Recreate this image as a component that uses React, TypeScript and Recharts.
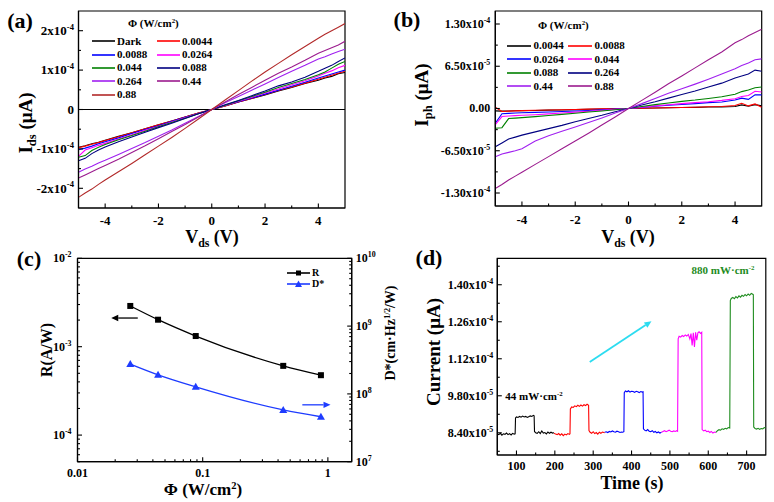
import React from 'react';
import { LineChart, Line, XAxis, YAxis, ReferenceLine, ReferenceArea, Legend } from 'recharts';

const FONT = "'Liberation Serif', 'Times New Roman', Times, serif";
const AXIS = { stroke: '#000', strokeWidth: 1.2 };
const BLUE = '#1E3CFF';
const CYAN = '#2CDCF0';

// ---- (a) I-V curves, current in units of 1e-4 µA ----
const VDS = [-5, -4.75, -4.5, -4.25, -4, -3.5, -3, -2.5, -2, -1.5, -1, -0.5, 0, 0.5, 1, 1.5, 2, 2.5, 3, 3.5, 4, 4.25, 4.5, 4.75, 5];
const IDS_DARK = [-0.96, -0.92, -0.87, -0.83, -0.78, -0.68, -0.59, -0.49, -0.39, -0.29, -0.19, -0.09, 0, 0.09, 0.19, 0.28, 0.37, 0.47, 0.56, 0.66, 0.74, 0.8, 0.84, 0.91, 0.94];
const IDS_0044 = [-0.97, -0.93, -0.88, -0.84, -0.79, -0.69, -0.59, -0.49, -0.39, -0.29, -0.19, -0.09, 0, 0.09, 0.19, 0.28, 0.38, 0.48, 0.57, 0.67, 0.77, 0.82, 0.87, 0.92, 0.97];
const IDS_0088 = [-1.02, -0.98, -0.93, -0.87, -0.82, -0.72, -0.61, -0.51, -0.41, -0.3, -0.2, -0.1, 0, 0.1, 0.2, 0.29, 0.39, 0.49, 0.59, 0.69, 0.8, 0.85, 0.9, 0.95, 1.0];
const IDS_0264 = [-1.19, -1.03, -0.97, -0.91, -0.86, -0.75, -0.64, -0.53, -0.43, -0.32, -0.21, -0.1, 0, 0.1, 0.21, 0.31, 0.42, 0.52, 0.63, 0.73, 0.85, 0.92, 0.98, 1.06, 1.12];
const IDS_044 = [-1.21, -1.17, -1.04, -0.96, -0.89, -0.77, -0.66, -0.55, -0.44, -0.33, -0.22, -0.11, 0, 0.11, 0.22, 0.33, 0.44, 0.56, 0.66, 0.76, 0.88, 0.95, 1.05, 1.15, 1.22];
const IDS_088 = [-1.3, -1.24, -1.12, -1.03, -0.95, -0.82, -0.7, -0.58, -0.46, -0.35, -0.23, -0.11, 0, 0.12, 0.23, 0.35, 0.47, 0.6, 0.7, 0.82, 0.97, 1.05, 1.12, 1.22, 1.31];
const IDS_264 = [-1.59, -1.51, -1.44, -1.36, -1.29, -1.14, -0.99, -0.84, -0.68, -0.52, -0.35, -0.18, 0, 0.17, 0.33, 0.49, 0.65, 0.81, 0.97, 1.12, 1.28, 1.34, 1.41, 1.47, 1.53];
const IDS_44 = [-1.74, -1.66, -1.58, -1.5, -1.42, -1.26, -1.09, -0.92, -0.74, -0.56, -0.38, -0.19, 0, 0.19, 0.38, 0.56, 0.74, 0.92, 1.08, 1.25, 1.43, 1.5, 1.57, 1.64, 1.73];
const IDS_88 = [-2.23, -2.12, -2.02, -1.9, -1.79, -1.58, -1.37, -1.15, -0.93, -0.71, -0.48, -0.24, 0, 0.24, 0.48, 0.72, 0.95, 1.17, 1.39, 1.6, 1.81, 1.91, 2.0, 2.09, 2.18];

const A_NAMES = ['Dark', '0.0044', '0.0088', '0.0264', '0.044', '0.088', '0.264', '0.44', '0.88'];
const A_COLORS = ['#000000', '#FF0000', '#0000FF', '#FF00FF', '#008000', '#000080', '#A020F0', '#9B1B8E', '#B22A2A'];
const A_VALUES = [IDS_DARK, IDS_0044, IDS_0088, IDS_0264, IDS_044, IDS_088, IDS_264, IDS_44, IDS_88];

// ---- (b) photocurrent, units of 1e-5 µA ----
const IPH_0044 = [-0.36, -0.4, -0.38, -0.35, -0.33, -0.3, -0.25, -0.22, -0.18, -0.12, -0.08, -0.04, 0, 0.05, 0.08, 0.12, 0.15, 0.18, 0.22, 0.25, 0.3, 0.55, 0.35, 0.6, 0.4];
const IPH_0088 = [0.2, -0.45, -0.4, -0.36, -0.32, -0.28, -0.24, -0.2, -0.15, -0.1, -0.06, -0.03, 0, 0.04, 0.08, 0.12, 0.16, 0.2, 0.26, 0.3, 0.45, 0.8, 0.4, 0.7, 0.2];
const IPH_0264 = [-2.27, -0.8, -0.75, -0.7, -0.66, -0.6, -0.53, -0.45, -0.38, -0.3, -0.2, -0.1, 0, 0.18, 0.35, 0.5, 0.62, 0.75, 0.9, 1.0, 1.3, 1.6, 1.4, 2.1, 2.1];
const IPH_044 = [-2.5, -1.24, -1.15, -1.1, -1.05, -0.95, -0.82, -0.7, -0.56, -0.42, -0.28, -0.14, 0, 0.2, 0.4, 0.58, 0.75, 0.9, 1.05, 1.25, 1.5, 1.85, 2.0, 2.65, 2.55];
const IPH_088 = [-3.04, -2.95, -1.55, -1.48, -1.4, -1.25, -1.08, -0.9, -0.72, -0.55, -0.38, -0.19, 0, 0.3, 0.6, 0.85, 1.1, 1.3, 1.55, 1.8, 2.2, 2.6, 2.85, 3.2, 3.3];
const IPH_264 = [-5.88, -5.3, -4.7, -4.4, -4.1, -3.6, -3.1, -2.6, -2.05, -1.55, -1.05, -0.5, 0, 0.55, 1.05, 1.6, 2.15, 2.7, 3.3, 3.9, 4.7, 5.0, 5.3, 5.9, 5.73];
const IPH_44 = [-7.43, -7.0, -6.75, -6.5, -6.2, -5.0, -4.2, -3.5, -2.85, -2.15, -1.45, -0.7, 0, 0.75, 1.55, 2.35, 3.05, 3.75, 4.5, 5.3, 6.1, 6.6, 7.0, 7.5, 7.63];
const IPH_88 = [-12.3, -11.7, -11.0, -10.4, -9.8, -8.6, -7.4, -6.2, -5.0, -3.8, -2.55, -1.3, 0, 1.25, 2.5, 3.8, 5.0, 6.25, 7.5, 8.7, 10.1, 10.6, 11.2, 11.7, 12.2];

const B_NAMES = ['0.0044', '0.0088', '0.0264', '0.044', '0.088', '0.264', '0.44', '0.88'];
const B_COLORS = ['#000000', '#FF0000', '#0000FF', '#FF00FF', '#008000', '#000080', '#A020F0', '#9B1B8E'];
const B_VALUES = [IPH_0044, IPH_0088, IPH_0264, IPH_044, IPH_088, IPH_264, IPH_44, IPH_88];

// ---- (c) responsivity and detectivity ----
const PHI = [0.0264, 0.044, 0.088, 0.44, 0.88];
const RESP = [2.89e-3, 2.02e-3, 1.32e-3, 6.07e-4, 4.76e-4];
const DSTAR = [2.75e8, 1.91e8, 1.27e8, 5.8e7, 4.6e7];

// ---- (d) on/off switching, current in units of 1e-5 µA ----
const RUN_BLACK: [number, number][] = [[50, 8.36], [54, 8.33], [58, 8.38], [62, 8.31], [66, 8.36], [70, 8.34], [74, 8.39], [78, 8.33], [82, 8.37], [86, 8.32], [90, 8.38], [94, 8.35], [96.5, 8.36], [97.5, 8.96], [100, 9.0], [104, 8.98], [108, 9.02], [112, 8.99], [116, 9.03], [120, 9.0], [124, 9.02], [128, 8.98], [132, 9.01], [136, 9.04], [140, 9.02], [144, 9.06], [146, 9.04], [147, 8.45], [150, 8.4], [154, 8.38], [158, 8.44], [162, 8.37], [166, 8.47], [170, 8.39], [174, 8.41], [178, 8.36], [182, 8.43], [186, 8.38], [190, 8.42], [194, 8.39], [198, 8.4]];
const RUN_RED: [number, number][] = [[198, 8.38], [202, 8.35], [206, 8.33], [210, 8.37], [214, 8.31], [218, 8.36], [222, 8.29], [226, 8.35], [230, 8.32], [234, 8.37], [238, 8.34], [239.5, 8.36], [240.5, 9.3], [244, 9.38], [248, 9.36], [252, 9.42], [256, 9.39], [260, 9.44], [264, 9.4], [268, 9.45], [272, 9.41], [276, 9.46], [280, 9.43], [284, 9.48], [288, 9.44], [289, 8.48], [292, 8.42], [296, 8.38], [300, 8.44], [304, 8.37], [308, 8.41], [312, 8.35], [316, 8.42], [320, 8.38], [324, 8.43], [330, 8.4]];
const RUN_BLUE: [number, number][] = [[330, 8.42], [334, 8.44], [338, 8.41], [342, 8.45], [346, 8.43], [350, 8.47], [354, 8.44], [358, 8.42], [362, 8.46], [366, 8.44], [370, 8.41], [374, 8.43], [377, 8.42], [380, 8.44], [381, 9.92], [384, 9.98], [388, 9.95], [392, 9.99], [396, 9.94], [400, 9.97], [404, 9.96], [408, 9.93], [412, 9.97], [416, 9.95], [420, 9.92], [424, 9.96], [428, 9.94], [430, 9.95], [431, 8.55], [434, 8.5], [438, 8.47], [442, 8.52], [446, 8.46], [450, 8.44], [454, 8.48], [458, 8.42], [462, 8.45], [466, 8.4], [470, 8.43], [474, 8.39], [478, 8.42]];
const RUN_MAGENTA: [number, number][] = [[478, 8.42], [482, 8.45], [486, 8.48], [490, 8.44], [494, 8.47], [498, 8.5], [502, 8.46], [506, 8.44], [510, 8.47], [514, 8.45], [518, 8.48], [520, 8.46], [521.5, 11.95], [524, 12.05], [528, 12.02], [532, 12.08], [536, 12.04], [540, 12.1], [544, 12.06], [548, 12.12], [552, 11.95], [555, 12.15], [558, 11.7], [561, 12.18], [564, 11.65], [567, 12.2], [570, 11.9], [573, 12.18], [576, 12.22], [580, 12.16], [583, 12.2], [584, 8.52], [588, 8.47], [592, 8.5], [596, 8.44], [600, 8.46], [604, 8.41], [608, 8.45], [612, 8.39], [616, 8.43], [620, 8.41]];
const RUN_GREEN: [number, number][] = [[620, 8.42], [624, 8.48], [628, 8.52], [632, 8.5], [636, 8.55], [640, 8.53], [644, 8.57], [648, 8.55], [652, 8.6], [656, 8.58], [657.5, 13.4], [660, 13.48], [664, 13.52], [668, 13.47], [672, 13.55], [676, 13.5], [680, 13.58], [684, 13.53], [688, 13.6], [692, 13.56], [696, 13.63], [700, 13.58], [704, 13.65], [708, 13.6], [712, 13.67], [716, 13.64], [717.5, 13.62], [718.5, 8.62], [722, 8.56], [726, 8.54], [730, 8.57], [734, 8.53], [738, 8.56], [742, 8.55], [746, 8.6], [750, 8.58]];
const D_RUNS = [RUN_BLACK, RUN_RED, RUN_BLUE, RUN_MAGENTA, RUN_GREEN];
const D_COLORS = ['#000000', '#FF0000', '#0000FF', '#FF00FF', '#1E8C1E'];

// ---- ticks ----
const IV_X_TICKS = [-4, -3, -2, -1, 0, 1, 2, 3, 4];
const IV_X_MAJOR = [-4, -2, 0, 2, 4];
const A_Y_TICKS = [-2, -1.5, -1, -0.5, 0, 0.5, 1, 1.5, 2];
const A_Y_MAJOR = [-2, -1, 0, 1, 2];
const B_Y_TICKS = [-13, -9.75, -6.5, -3.25, 0, 3.25, 6.5, 9.75, 13];
const B_Y_MAJOR = [-13, -6.5, 0, 6.5, 13];
const C_X_TICKS = [0.01, 0.02, 0.03, 0.04, 0.05, 0.06, 0.07, 0.08, 0.09, 0.1, 0.2, 0.3, 0.4, 0.5, 0.6, 0.7, 0.8, 0.9, 1];
const C_R_TICKS = [5e-5, 6e-5, 7e-5, 8e-5, 9e-5, 1e-4, 2e-4, 3e-4, 4e-4, 5e-4, 6e-4, 7e-4, 8e-4, 9e-4, 1e-3, 2e-3, 3e-3, 4e-3, 5e-3, 6e-3, 7e-3, 8e-3, 9e-3, 1e-2];
const C_D_TICKS = [1e7, 2e7, 3e7, 4e7, 5e7, 6e7, 7e7, 8e7, 9e7, 1e8, 2e8, 3e8, 4e8, 5e8, 6e8, 7e8, 8e8, 9e8, 1e9, 2e9, 3e9, 4e9, 5e9, 6e9, 7e9, 8e9, 9e9, 1e10];
const D_X_TICKS = [100, 150, 200, 250, 300, 350, 400, 450, 500, 550, 600, 650, 700];
const D_X_MAJOR = [100, 200, 300, 400, 500, 600, 700];
const D_Y_TICKS = [7.7, 8.4, 9.1, 9.8, 10.5, 11.2, 11.9, 12.6, 13.3, 14, 14.7];
const D_Y_MAJOR = [8.4, 9.8, 11.2, 12.6, 14];

const near = (a: number, b: number) => Math.abs(a - b) < 1e-6 * Math.max(1, Math.abs(b));
const inList = (v: number, list: number[]) => list.some((m) => near(v, m));
const isDecade = (v: number) => {
  const l = Math.log10(v);
  return Math.abs(l - Math.round(l)) < 1e-6;
};

type Lab = [string, string] | null;
// label in units of 1e-5 -> "8.40x10^-5" / "1.26x10^-4"
const sciE5 = (v: number): [string, string] => {
  if (v === 0) return ['0.00', ''];
  if (Math.abs(v) >= 10) return [`${(v / 10).toFixed(2)}x10`, '-4'];
  return [`${v.toFixed(2)}x10`, '-5'];
};

const makeTick = (side: 'left' | 'right' | 'bottom', gap: number, size: number, label: (v: number) => Lab) =>
  (p: any) => {
    const v = p.payload.value;
    const lab = label(v);
    const len = lab ? 4.5 : 2.5;
    const { x, y } = p;
    let ln;
    if (side === 'left') ln = <line x1={x + gap} x2={x + gap + len} y1={y} y2={y} stroke="#000" strokeWidth={1.1} />;
    else if (side === 'right') ln = <line x1={x - gap} x2={x - gap - len} y1={y} y2={y} stroke="#000" strokeWidth={1.1} />;
    else ln = <line x1={x} x2={x} y1={y - gap} y2={y - gap - len} stroke="#000" strokeWidth={1.1} />;
    if (!lab) return <g>{ln}</g>;
    const anchor = side === 'left' ? 'end' : side === 'right' ? 'start' : 'middle';
    const ty = side === 'bottom' ? y + size * 0.72 : y + size * 0.33;
    return (
      <g>
        {ln}
        <text x={x} y={ty} textAnchor={anchor} fontFamily={FONT} fontWeight={700} fontSize={size} fill="#000">
          {lab[0]}
          {lab[1] && <tspan dy={-size * 0.42} fontSize={size * 0.66}>{lab[1]}</tspan>}
        </text>
      </g>
    );
  };

const ivXLabel = (v: number): Lab => (inList(v, IV_X_MAJOR) ? [String(v), ''] : null);
const tickAX = makeTick('bottom', 7.5, 13, ivXLabel);
const tickAY = makeTick('left', 4.5, 13, (v) => (inList(v, A_Y_MAJOR) ? (v === 0 ? ['0', ''] : [`${v}x10`, '-4']) : null));
const tickBX = makeTick('bottom', 9, 13, ivXLabel);
const tickBY = makeTick('left', 5, 12, (v) => (inList(v, B_Y_MAJOR) ? sciE5(v) : null));
const tickCX = makeTick('bottom', 6.5, 12, (v) => (isDecade(v) ? [String(v), ''] : null));
const tickCL = makeTick('left', 6, 12, (v) => (isDecade(v) ? ['10', String(Math.round(Math.log10(v)))] : null));
const tickCR = makeTick('right', 4, 12, (v) => (isDecade(v) ? ['10', String(Math.round(Math.log10(v)))] : null));
const tickDX = makeTick('bottom', 6.5, 12, (v) => (inList(v, D_X_MAJOR) ? [String(v), ''] : null));
const tickDY = makeTick('left', 4, 12, (v) => (inList(v, D_Y_MAJOR) ? sciE5(v) : null));

const ivPoints = (ys: number[]) => VDS.map((v, i) => ({ v, y: ys[i] }));
const runPoints = (run: [number, number][]) => run.map(([t, y]) => ({ t, y }));
const C_ROWS = PHI.map((phi, i) => ({ phi, r: RESP[i], d: DSTAR[i] }));

const Arrow = (p: any) => {
  const { x1, y1, x2, y2, stroke } = p;
  const a = Math.atan2(y2 - y1, x2 - x1);
  const L = 7;
  const W = 3.2;
  const bx = x2 - L * Math.cos(a);
  const by = y2 - L * Math.sin(a);
  const pts = `${x2},${y2} ${bx - W * Math.sin(a)},${by + W * Math.cos(a)} ${bx + W * Math.sin(a)},${by - W * Math.cos(a)}`;
  return (
    <g>
      <line x1={x1} y1={y1} x2={bx} y2={by} stroke={stroke} strokeWidth={p.strokeWidth || 1.3} />
      <polygon points={pts} fill={stroke} />
    </g>
  );
};

const SquareDot = (p: any) => <rect key={`s${p.index}`} x={p.cx - 3} y={p.cy - 3} width={6} height={6} fill="#000" />;
const TriDot = (p: any) => (
  <polygon key={`t${p.index}`} points={`${p.cx},${p.cy - 4} ${p.cx - 4},${p.cy + 3} ${p.cx + 4},${p.cy + 3}`} fill={BLUE} />
);

const Sup = ({ children }: { children: React.ReactNode }) => (
  <span style={{ fontSize: '0.62em', position: 'relative', top: '-0.55em' }}>{children}</span>
);
const Sub = ({ children }: { children: React.ReactNode }) => (
  <span style={{ fontSize: '0.66em', position: 'relative', top: '0.3em' }}>{children}</span>
);

const GridLegend = (props: any) => {
  const { payload = [], order, cols, colW, rowH, lineW, fontSize, title, titleH, titlePad, titleGap } = props;
  const items = [...payload].sort((a: any, b: any) => order.indexOf(a.value) - order.indexOf(b.value));
  return (
    <div style={{ fontFamily: FONT, fontWeight: 700, fontSize, color: '#000', lineHeight: 1 }}>
      {title && (
        <div style={{ height: titleH, lineHeight: `${titleH}px`, paddingLeft: titlePad, marginBottom: titleGap }}>
          Φ (W/cm<Sup>2</Sup>)
        </div>
      )}
      <div style={{ display: 'grid', gridTemplateColumns: `repeat(${cols}, ${colW}px)` }}>
        {items.map((e: any) => (
          <div key={e.value} style={{ display: 'flex', alignItems: 'center', height: rowH }}>
            <svg width={lineW} height={8} style={{ flex: 'none' }}>
              <line x1={0} x2={lineW} y1={4} y2={4} stroke={e.color} strokeWidth={1.6} />
              {e.type === 'square' && <rect x={lineW / 2 - 2.5} y={1.5} width={5} height={5} fill={e.color} />}
              {e.type === 'triangle' && (
                <polygon points={`${lineW / 2},0.5 ${lineW / 2 - 3.5},7 ${lineW / 2 + 3.5},7`} fill={e.color} />
              )}
            </svg>
            <span style={{ marginLeft: 2 }}>{e.value}</span>
          </div>
        ))}
      </div>
    </div>
  );
};

const Txt = ({ x, y, size, rot, color, children }: any) => (
  <div
    style={{
      position: 'absolute',
      left: x,
      top: y,
      transform: `translate(-50%, -50%)${rot ? ' rotate(-90deg)' : ''}`,
      fontFamily: FONT,
      fontWeight: 700,
      fontSize: size,
      lineHeight: 1,
      whiteSpace: 'nowrap',
      color: color || '#000',
    }}
  >
    {children}
  </div>
);

const PanelA = () => (
  <LineChart width={390} height={250} margin={{ top: 11, right: 45, bottom: 12, left: 0 }}>
    <XAxis type="number" dataKey="v" domain={[-5, 5]} ticks={IV_X_TICKS} interval={0} tickSize={0} tickMargin={7.5}
      tickLine={false} axisLine={AXIS} height={30} tick={tickAX} allowDataOverflow />
    <YAxis type="number" domain={[-2.5, 2.5]} ticks={A_Y_TICKS} interval={0} tickSize={0} tickMargin={4.5}
      tickLine={false} axisLine={AXIS} width={78.5} tick={tickAY} allowDataOverflow />
    <ReferenceArea x1={-5} x2={5} y1={-2.5} y2={2.5} fill="none" stroke="#000" strokeWidth={1.2} ifOverflow="visible" />
    <ReferenceLine y={0} stroke="#000" strokeWidth={1.2} />
    {A_VALUES.map((ys, i) => (
      <Line key={A_NAMES[i]} data={ivPoints(ys)} dataKey="y" name={A_NAMES[i]} stroke={A_COLORS[i]} strokeWidth={1.1}
        type="linear" dot={false} activeDot={false} isAnimationActive={false} />
    ))}
    <Legend verticalAlign="middle" align="center" layout="horizontal" wrapperStyle={{ left: 92, top: 15, width: 140 }}
      content={(p: any) => (
        <GridLegend {...p} order={A_NAMES} cols={2} colW={65} rowH={13.4} lineW={23} fontSize={11}
          title titleH={16} titlePad={36} titleGap={3.5} />
      )} />
  </LineChart>
);

const PanelB = () => (
  <LineChart width={384} height={250} margin={{ top: 11, right: 12.3, bottom: 14, left: 0 }}>
    <XAxis type="number" dataKey="v" domain={[-5, 5]} ticks={IV_X_TICKS} interval={0} tickSize={0} tickMargin={9}
      tickLine={false} axisLine={AXIS} height={30} tick={tickBX} allowDataOverflow />
    <YAxis type="number" domain={[-15, 15]} ticks={B_Y_TICKS} interval={0} tickSize={0} tickMargin={5}
      tickLine={false} axisLine={AXIS} width={105.3} tick={tickBY} allowDataOverflow />
    <ReferenceArea x1={-5} x2={5} y1={-15} y2={15} fill="none" stroke="#000" strokeWidth={1.2} ifOverflow="visible" />
    {B_VALUES.map((ys, i) => (
      <Line key={B_NAMES[i]} data={ivPoints(ys)} dataKey="y" name={B_NAMES[i]} stroke={B_COLORS[i]} strokeWidth={1.1}
        type="linear" dot={false} activeDot={false} isAnimationActive={false} />
    ))}
    <Legend verticalAlign="middle" align="center" layout="horizontal" wrapperStyle={{ left: 117, top: 17, width: 130 }}
      content={(p: any) => (
        <GridLegend {...p} order={B_NAMES} cols={2} colW={61} rowH={13.4} lineW={24.4} fontSize={11}
          title titleH={16} titlePad={31} titleGap={6.3} />
      )} />
  </LineChart>
);

const PanelC = () => (
  <LineChart width={390} height={252} data={C_ROWS} margin={{ top: 8.3, right: 0, bottom: 10, left: 0 }}>
    <XAxis type="number" dataKey="phi" scale="log" domain={[0.01, 1.55]} ticks={C_X_TICKS} interval={0} tickSize={0}
      tickMargin={6.5} tickLine={false} axisLine={AXIS} height={30.3} tick={tickCX} allowDataOverflow />
    <YAxis yAxisId="left" type="number" scale="log" domain={[5e-5, 1e-2]} ticks={C_R_TICKS} interval={0} tickSize={0}
      tickMargin={6} tickLine={false} axisLine={AXIS} width={77.5} tick={tickCL} allowDataOverflow />
    <YAxis yAxisId="right" orientation="right" type="number" scale="log" domain={[1e7, 1e10]} ticks={C_D_TICKS}
      interval={0} tickSize={0} tickMargin={4} tickLine={false} axisLine={AXIS} width={38.3} tick={tickCR} allowDataOverflow />
    <ReferenceArea yAxisId="left" x1={0.01} x2={1.55} y1={5e-5} y2={1e-2} fill="none" stroke="#000" strokeWidth={1.2}
      ifOverflow="visible" />
    <ReferenceLine yAxisId="left" segment={[{ x: 0.0303, y: 2.11e-3 }, { x: 0.0186, y: 2.11e-3 }]} stroke="#000"
      strokeWidth={1.3} shape={Arrow} ifOverflow="visible" />
    <ReferenceLine yAxisId="right" segment={[{ x: 0.625, y: 6.9e7 }, { x: 1.05, y: 6.9e7 }]} stroke={BLUE}
      strokeWidth={1.3} shape={Arrow} ifOverflow="visible" />
    <Line yAxisId="left" dataKey="r" name="R" type="monotone" stroke="#000" strokeWidth={1.3} dot={SquareDot}
      activeDot={false} legendType="square" isAnimationActive={false} />
    <Line yAxisId="right" dataKey="d" name="D*" type="monotone" stroke={BLUE} strokeWidth={1.3} dot={TriDot}
      activeDot={false} legendType="triangle" isAnimationActive={false} />
    <Legend verticalAlign="middle" align="center" layout="horizontal" wrapperStyle={{ left: 287, top: 16.9, width: 50 }}
      content={(p: any) => <GridLegend {...p} order={['R', 'D*']} cols={1} colW={50} rowH={11.6} lineW={23} fontSize={10} />} />
  </LineChart>
);

const PanelD = () => (
  <LineChart width={384} height={252} margin={{ top: 8.3, right: 8.2, bottom: 17, left: 0 }}>
    <XAxis type="number" dataKey="t" domain={[50, 750]} ticks={D_X_TICKS} interval={0} tickSize={0} tickMargin={6.5}
      tickLine={false} axisLine={AXIS} height={30} tick={tickDX} allowDataOverflow />
    <YAxis type="number" domain={[7.56, 15]} ticks={D_Y_TICKS} interval={0} tickSize={0} tickMargin={4}
      tickLine={false} axisLine={AXIS} width={107.3} tick={tickDY} allowDataOverflow />
    <ReferenceArea x1={50} x2={750} y1={7.56} y2={15} fill="none" stroke="#000" strokeWidth={1.2} ifOverflow="visible" />
    <ReferenceLine segment={[{ x: 291, y: 11.08 }, { x: 452, y: 12.62 }]} stroke={CYAN} strokeWidth={1.8} shape={Arrow}
      ifOverflow="visible" />
    {D_RUNS.map((run, i) => (
      <Line key={i} data={runPoints(run)} dataKey="y" stroke={D_COLORS[i]} strokeWidth={1.1} type="linear" dot={false}
        activeDot={false} legendType="none" isAnimationActive={false} />
    ))}
  </LineChart>
);

export default function App() {
  return (
    <div style={{ position: 'absolute', left: 0, top: 0, width: 774, height: 502, background: '#fff', overflow: 'hidden' }}>
      <div style={{ position: 'absolute', left: 0, top: 0 }}><PanelA /></div>
      <div style={{ position: 'absolute', left: 390, top: 0 }}><PanelB /></div>
      <div style={{ position: 'absolute', left: 0, top: 250 }}><PanelC /></div>
      <div style={{ position: 'absolute', left: 390, top: 250 }}><PanelD /></div>

      <Txt x={20} y={21} size={22}>(a)</Txt>
      <Txt x={25} y={123} size={19} rot>I<Sub>ds</Sub> (μA)</Txt>
      <Txt x={212} y={237} size={18}>V<Sub>ds</Sub> (V)</Txt>

      <Txt x={407} y={20} size={22}>(b)</Txt>
      <Txt x={421} y={95} size={19} rot>I<Sub>ph</Sub> (μA)</Txt>
      <Txt x={628} y={237} size={18}>V<Sub>ds</Sub> (V)</Txt>

      <Txt x={29} y={259} size={22}>(c)</Txt>
      <Txt x={47} y={350} size={16} rot>R(A/W)</Txt>
      <Txt x={391} y={333} size={14} rot>D*(cm·Hz<Sup>1/2</Sup>/W)</Txt>
      <Txt x={203} y={489} size={17}>Φ (W/cm<Sup>2</Sup>)</Txt>

      <Txt x={429} y={258} size={22}>(d)</Txt>
      <Txt x={433} y={352} size={19} rot>Current (μA)</Txt>
      <Txt x={632} y={483} size={18}>Time (s)</Txt>
      <Txt x={534} y={396} size={11}>44 mW·cm<Sup>-2</Sup></Txt>
      <Txt x={723} y={270} size={11} color="#1E8C1E">880 mW·cm<Sup>-2</Sup></Txt>
    </div>
  );
}
